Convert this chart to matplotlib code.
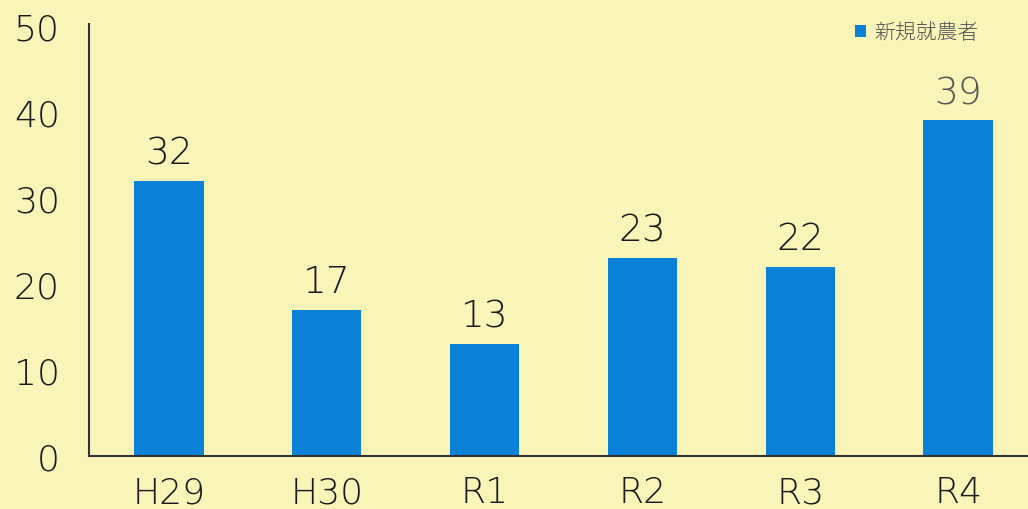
import matplotlib
matplotlib.use('Agg')
from matplotlib import pyplot as plt

years = ['H29', 'H30', 'R1', 'R2', 'R3', 'R4']
farmers = [32, 17, 13, 23, 22, 39]
label_colors = ['#1a1a1a', '#1a1a1a', '#1a1a1a', '#1a1a1a', '#1a1a1a', '#555555']

bg = '#f9f5b9'
bar_col = '#0a80d6'

plt.rcParams['font.family'] = ['DejaVu Sans', 'Noto Sans CJK JP']
plt.rcParams['font.weight'] = 'light'

fig = plt.figure(figsize=(10.28, 5.10), dpi=100, facecolor=bg)
ax = fig.add_axes([89/1028, 53/510, 1 - 89/1028, 432/510], facecolor=bg)

x = range(len(years))
bars = ax.bar(x, farmers, width=0.44, color=bar_col, label='新規就農者', zorder=2)

for b, v, c in zip(bars, farmers, label_colors):
	ax.text(b.get_x() + b.get_width()/2, v + 2.0, str(v), ha='center', va='baseline',
		fontsize=27, color=c)

ax.set_xlim(-0.506, len(years) - 1 + 0.443)
ax.set_ylim(0, 50.2)
ax.set_yticks([0, 10, 20, 30, 40, 50])
ax.set_xticks(list(x))
ax.set_xticklabels(years)
ax.tick_params(axis='y', length=0, pad=21, labelsize=26, labelcolor='#1a1a1a')
ax.tick_params(axis='x', length=0, pad=14, labelsize=26, labelcolor='#1a1a1a')

for s in ['top', 'right']:
	ax.spines[s].set_visible(False)
for s in ['left', 'bottom']:
	ax.spines[s].set_color('#333333')
	ax.spines[s].set_linewidth(1.5)

leg = ax.legend(loc='upper right', bbox_to_anchor=(0.967, 1.05), frameon=False,
	handlelength=0.5, handleheight=0.5, handletextpad=0.4,
	prop={'family': ['Noto Sans CJK JP', 'DejaVu Sans'], 'size': 15})
for t in leg.get_texts():
	t.set_color('#555555')

fig.savefig('out.png', dpi=100, facecolor=bg)
